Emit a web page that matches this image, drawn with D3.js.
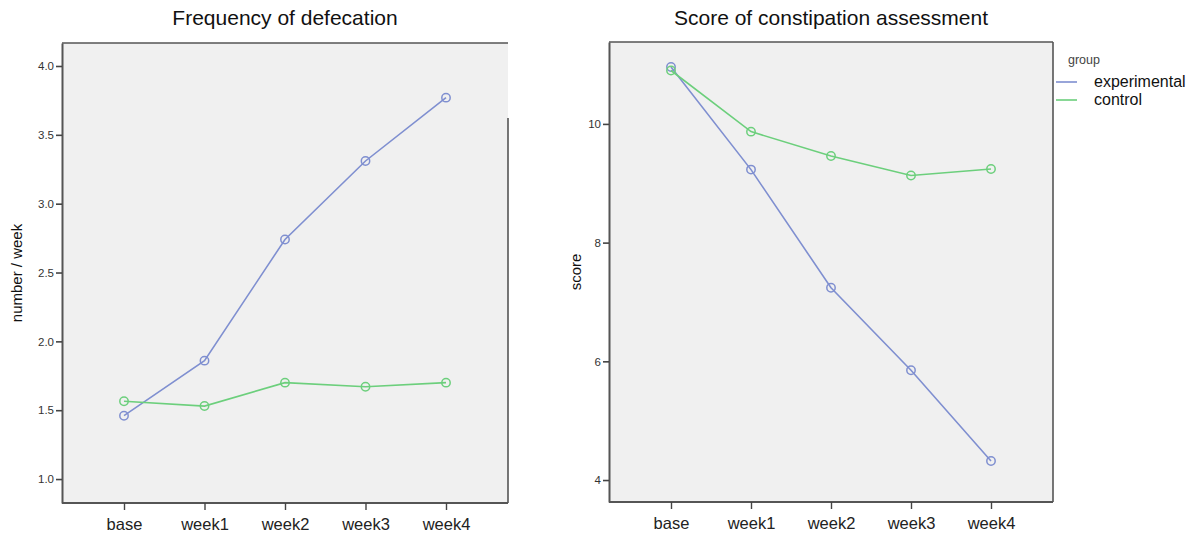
<!DOCTYPE html>
<html>
<head>
<meta charset="UTF-8">
<style>
  body { margin: 0; background: #fff; }
  svg { font-family: "Liberation Sans", Arial, sans-serif; }
</style>
<script src="https://d3js.org/d3.v7.min.js"></script>
</head>
<body>
<script>
const categories = ["base", "week1", "week2", "week3", "week4"];
const groups = ["experimental", "control"];
const colors = ["#7f8fd0", "#6ccf7c"];

// frequency of defecation (number / week)
const freqExperimental = [1.46, 1.86, 2.74, 3.31, 3.77];
const freqControl = [1.565, 1.53, 1.70, 1.67, 1.70];
const freqTicks = [1.0, 1.5, 2.0, 2.5, 3.0, 3.5, 4.0];

// constipation assessment score
const scoreExperimental = [10.96, 9.23, 7.24, 5.85, 4.32];
const scoreControl = [10.9, 9.87, 9.46, 9.13, 9.24];
const scoreTicks = [4, 6, 8, 10];

const svg = d3.select("body").append("svg")
  .attr("width", 1198).attr("height", 534);

function panel(opt) {
  const g = svg.append("g");
  const x = d3.scalePoint().domain(categories).range([opt.x0 + 62, opt.x1 - 62]);
  const y = d3.scaleLinear().domain(opt.domain).range([opt.y1, opt.y0]);

  g.append("rect")
    .attr("x", opt.x0).attr("y", opt.y0)
    .attr("width", opt.x1 - opt.x0).attr("height", opt.y1 - opt.y0)
    .attr("fill", "#f0f0f0");

  // frame
  const fr = g.append("g").attr("stroke", "#555").attr("stroke-width", 1.6).attr("fill", "none");
  fr.append("line").attr("x1", opt.x0).attr("x2", opt.x1).attr("y1", opt.y0).attr("y2", opt.y0);
  fr.append("line").attr("x1", opt.x1).attr("x2", opt.x1).attr("y1", opt.rightTop || opt.y0).attr("y2", opt.y1);

  const ya = g.append("g").attr("transform", `translate(${opt.x0},0)`)
    .call(d3.axisLeft(y).tickValues(opt.ticks).tickSize(6).tickSizeOuter(0).tickPadding(2).tickFormat(opt.fmt));
  ya.select(".domain").attr("stroke", "#555").attr("stroke-width", 2);
  ya.selectAll(".tick line").attr("stroke", "#444").attr("stroke-width", 1.6);
  ya.selectAll(".tick text").attr("fill", "#333").style("font-size", "11.5px");

  const xa = g.append("g").attr("transform", `translate(0,${opt.y1})`)
    .call(d3.axisBottom(x).tickSize(7).tickSizeOuter(0).tickPadding(8));
  xa.select(".domain").attr("d", `M${opt.x0},0H${opt.x1}`).attr("stroke", "#555").attr("stroke-width", 2);
  xa.selectAll(".tick line").attr("stroke", "#444").attr("stroke-width", 1.4);
  xa.selectAll(".tick text").attr("fill", "#222").style("font-size", "16.5px");

  const line = d3.line().x((d, i) => x(categories[i])).y(d => y(d));
  opt.series.forEach((s, k) => {
    g.append("path").datum(s)
      .attr("d", line).attr("fill", "none")
      .attr("stroke", colors[k]).attr("stroke-width", 1.6);
    g.selectAll(null).data(s).enter().append("circle")
      .attr("cx", (d, i) => x(categories[i])).attr("cy", d => y(d))
      .attr("r", 4.2).attr("fill", "none")
      .attr("stroke", colors[k]).attr("stroke-width", 1.5);
  });

  svg.append("text")
    .attr("x", (opt.x0 + opt.x1) / 2).attr("y", 25)
    .attr("text-anchor", "middle").style("font-size", "21px").attr("fill", "#111")
    .text(opt.title);

  svg.append("text")
    .attr("transform", `translate(${opt.labelX},${(opt.y0 + opt.y1) / 2}) rotate(-90)`)
    .attr("text-anchor", "middle").style("font-size", "15px").attr("fill", "#111")
    .text(opt.ylabel);
}

panel({
  x0: 62, x1: 508, y0: 43, y1: 503, rightTop: 118,
  domain: [0.826, 4.167], ticks: freqTicks, fmt: d3.format(".1f"),
  series: [freqExperimental, freqControl],
  title: "Frequency of defecation", ylabel: "number / week", labelX: 22
});

panel({
  x0: 609, x1: 1053, y0: 42, y1: 502,
  domain: [3.63, 11.38], ticks: scoreTicks, fmt: d3.format("d"),
  series: [scoreExperimental, scoreControl],
  title: "Score of constipation assessment", ylabel: "score", labelX: 581
});

// legend
const lg = svg.append("g");
lg.append("text").attr("x", 1068).attr("y", 64)
  .style("font-size", "12.5px").attr("fill", "#444").text("group");
groups.forEach((name, i) => {
  const yy = 82 + i * 18;
  lg.append("line").attr("x1", 1056).attr("x2", 1077).attr("y1", yy).attr("y2", yy)
    .attr("stroke", colors[i]).attr("stroke-width", 1.6);
  lg.append("text").attr("x", 1094).attr("y", yy + 5)
    .style("font-size", "16px").attr("fill", "#111").text(name);
});
</script>
</body>
</html>
